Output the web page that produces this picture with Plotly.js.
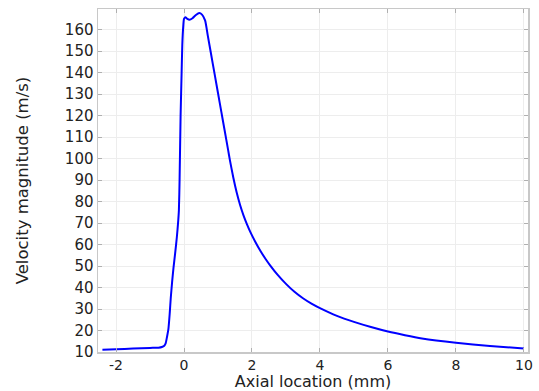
<!DOCTYPE html>
<html>
<head>
<meta charset="utf-8">
<script src="https://cdn.plot.ly/plotly-3.0.1.min.js"></script>
<style>html,body{margin:0;padding:0;background:#fff;}#chart{width:539px;height:391px;}</style>
</head>
<body>
<div id="chart"></div>
<script>
// Axial location (mm)
var axialLocation = [-2.4, -2.0, -1.5, -1.0, -0.75, -0.65, -0.58, -0.54, -0.5, -0.46, -0.42, -0.39, -0.35, -0.31, -0.26, -0.21, -0.17, -0.15, -0.13, -0.10, -0.07, -0.05, -0.02, 0.0, 0.04, 0.10, 0.16, 0.25, 0.35, 0.45, 0.53, 0.62, 0.70, 0.80, 0.90, 1.00, 1.10, 1.20, 1.30, 1.35, 1.45, 1.55, 1.65, 1.75, 1.85, 1.95, 2.10, 2.25, 2.40, 2.55, 2.75, 3.00, 3.25, 3.50, 3.75, 4.00, 4.50, 5.00, 5.50, 6.00, 6.50, 7.00, 8.00, 9.00, 10.0];
// Velocity magnitude (m/s)
var velocityMagnitude = [11.1, 11.3, 11.6, 11.9, 12.0, 12.3, 12.9, 14.0, 17.0, 20.5, 28.0, 35.0, 42.5, 49.0, 56.0, 63.5, 71.0, 76.0, 90.0, 120.0, 140.0, 153.0, 162.0, 165.0, 165.8, 165.0, 164.6, 165.3, 166.8, 167.7, 167.0, 164.3, 157.2, 148.3, 139.4, 130.5, 121.6, 112.7, 103.8, 99.3, 91.2, 84.2, 78.4, 73.6, 69.5, 65.9, 61.2, 57.0, 53.3, 50.0, 46.0, 41.7, 38.0, 35.0, 32.5, 30.4, 26.8, 24.0, 21.6, 19.5, 17.8, 16.3, 14.3, 12.8, 11.6];

var xTickVals = [-2, 0, 2, 4, 6, 8, 10];
var xTickText = ["-2", "0", "2", "4", "6", "8", "10"];
var yTickVals = [10, 20, 30, 40, 50, 60, 70, 80, 90, 100, 110, 120, 130, 140, 150, 160];

var trace = {
  x: axialLocation,
  y: velocityMagnitude,
  type: 'scatter',
  mode: 'lines',
  line: {color: 'rgb(0,0,255)', width: 2, shape: 'spline', smoothing: 0.6},
  hoverinfo: 'none'
};

var axisCommon = {
  showline: true,
  linecolor: '#c8c8c8',
  linewidth: 1.5,
  mirror: 'ticks',
  ticks: 'inside',
  ticklen: 4,
  tickwidth: 1,
  tickcolor: '#b0b0b0',
  showgrid: true,
  gridcolor: '#ededed',
  gridwidth: 1,
  zeroline: false,
  tickfont: {family: 'DejaVu Sans', size: 15, color: '#222'}
};

var layout = {
  width: 539,
  height: 391,
  margin: {l: 98, r: 11, t: 9, b: 39, pad: 0},
  paper_bgcolor: '#ffffff',
  plot_bgcolor: '#ffffff',
  showlegend: false,
  font: {family: 'DejaVu Sans', color: '#222'},
  xaxis: Object.assign({}, axisCommon, {
    range: [-2.53, 10.12],
    tickmode: 'array',
    tickvals: xTickVals,
    ticktext: xTickText,
    tickfont: {family: 'DejaVu Sans', size: 14, color: '#222'},
    title: {text: 'Axial location (mm)', font: {family: 'DejaVu Sans', size: 16, color: '#222'}, standoff: 0}
  }),
  yaxis: Object.assign({}, axisCommon, {
    range: [10, 169.6],
    tickmode: 'array',
    tickvals: yTickVals,
    title: {text: 'Velocity magnitude (m/s)', font: {family: 'DejaVu Sans', size: 16.5, color: '#222'}, standoff: 32}
  })
};

Plotly.newPlot('chart', [trace], layout, {staticPlot: true, displayModeBar: false});
</script>
</body>
</html>
